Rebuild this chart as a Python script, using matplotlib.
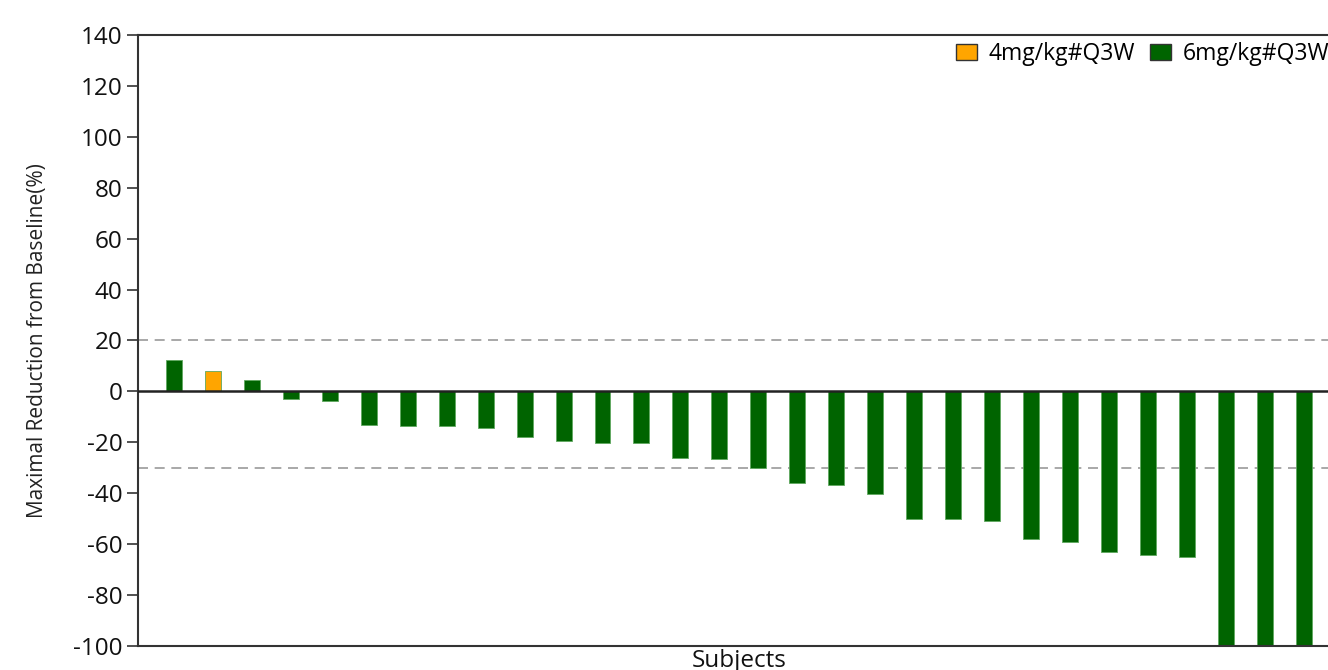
import matplotlib
matplotlib.use("Agg")
import matplotlib.pyplot as plt
from matplotlib.patches import Patch

# Best percent change from baseline per subject, sorted in descending order
values = [12.2, 7.9, 4.3, -2.9, -3.9, -13.0, -13.6, -13.6, -14.4, -18.1,
          -19.4, -20.2, -20.4, -26.2, -26.4, -30.0, -36.0, -36.7, -40.1, -50.0,
          -50.3, -50.8, -58.1, -59.2, -63.2, -64.3, -64.9, -100.0, -100.0, -100.0]
# Dose group of each subject
groups = ["6mg/kg#Q3W", "4mg/kg#Q3W"] + ["6mg/kg#Q3W"] * 28
group_names = ["4mg/kg#Q3W", "6mg/kg#Q3W"]
group_colors = {"4mg/kg#Q3W": "#FFA500", "6mg/kg#Q3W": "#006400"}
y_ticks = list(range(-100, 141, 20))
ref_lines = [20, -30]

plt.rcParams["font.family"] = ["Open Sans", "DejaVu Sans"]

fig = plt.figure(figsize=(13.28, 6.70), dpi=100)
ax = fig.add_axes([0.1039, 0.0358, 0.905, 0.912])

x = list(range(len(values)))
colors = [group_colors[g] for g in groups]
ax.bar(x, values, width=0.41, color=colors, edgecolor="#5fa85f", linewidth=0.6, zorder=2)

ax.axhline(0, color="#222222", linewidth=1.8, zorder=3)
for yv in ref_lines:
    ax.axhline(yv, color="#999999", linewidth=1.2, linestyle=(0, (6, 4)), zorder=1)

ax.set_xlim(-0.92, len(values) - 1 + 0.92)
ax.set_ylim(-100, 140)
ax.set_yticks(y_ticks)
ax.set_yticklabels([str(t) for t in y_ticks], fontsize=17.5, color="#111111")
ax.set_xticks([])
ax.tick_params(axis="y", direction="out", length=8, width=1.2, color="#333333", pad=3)

for sp in ax.spines.values():
    sp.set_color("#333333")
    sp.set_linewidth(1.5)

ax.set_ylabel("Maximal Reduction from Baseline(%)", fontsize=15, color="#222222", labelpad=18)
ax.set_xlabel("Subjects", fontsize=17.5, color="#111111", labelpad=2)

handles = [Patch(facecolor=group_colors[g], edgecolor="#333333", linewidth=1.0) for g in group_names]
fig.legend(handles, group_names, loc="upper left", bbox_to_anchor=(956 / 1328, 1 - 42 / 670),
           ncol=2, frameon=False, fontsize=16.5, handlelength=0.9, handleheight=0.7,
           handletextpad=0.52, columnspacing=0.65, borderpad=0, borderaxespad=0)

fig.savefig("out.png", dpi=100)
